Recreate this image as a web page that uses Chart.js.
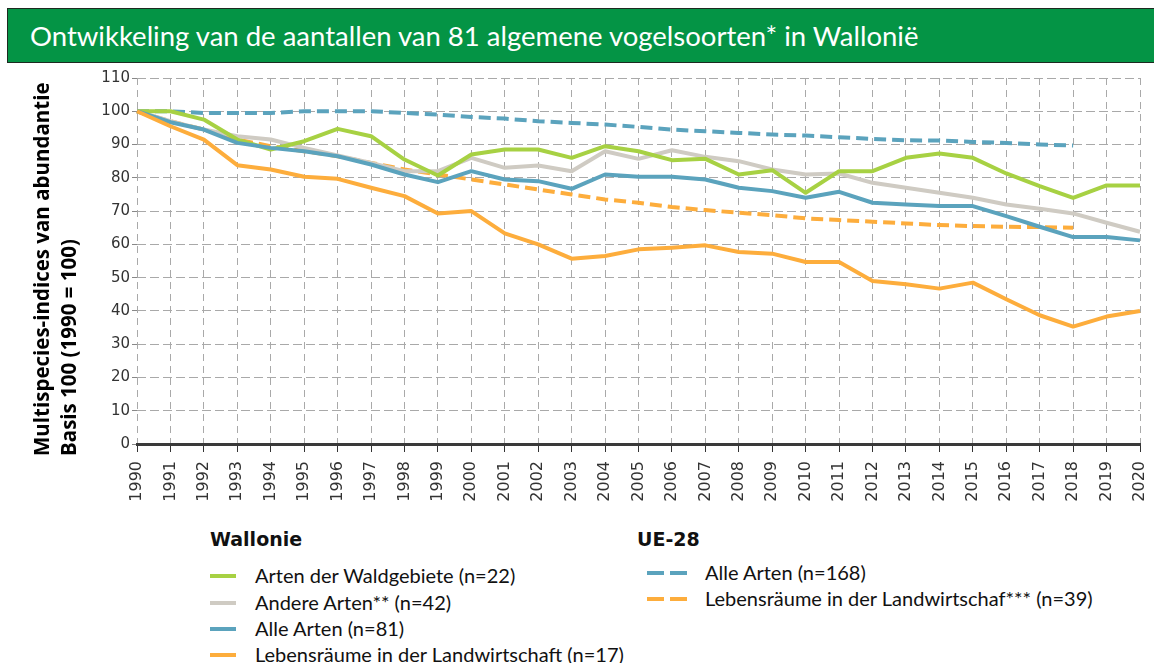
<!DOCTYPE html>
<html lang="nl">
<head>
    <meta charset="UTF-8">
    <title>Vogelsoorten Wallonië</title>
    <script src="https://cdn.jsdelivr.net/npm/chart.js"></script>
    <style>
        body {
            margin: 0;
            width: 1154px;
            height: 663px;
            background: #fff;
            position: relative;
            overflow: hidden;
            font-family: 'Lato', sans-serif;
        }

        .titlebar {
            position: absolute;
            left: 7px;
            top: 8px;
            width: 1160px;
            height: 55px;
            background: #049445;
            border: 1px solid #1d2a20;
            color: #fff;
            font-size: 27.5px;
            line-height: 53px;
            padding-left: 22px;
            box-sizing: border-box;
            z-index: 2;
        }

        .chart-box {
            position: absolute;
            left: 0;
            top: 0;
            width: 1154px;
            height: 520px;
        }

        .legend-head {
            position: absolute;
            font-family: 'DejaVu Sans', sans-serif;
            font-weight: bold;
            font-size: 19px;
            color: #111;
        }

        .legend-item {
            position: absolute;
            font-size: 20px;
            color: #111;
            white-space: nowrap;
        }

        .swatch {
            position: absolute;
            height: 4px;
        }
    </style>
</head>
<body>

    <div class="titlebar">Ontwikkeling van de aantallen van 81 algemene vogelsoorten* in Wallonië</div>

    <div class="chart-box">
        <canvas id="birdChart"></canvas>
    </div>

    <div id="legend"></div>

    <script>
        // categories
        const years = ['1990', '1991', '1992', '1993', '1994', '1995', '1996', '1997', '1998', '1999',
            '2000', '2001', '2002', '2003', '2004', '2005', '2006', '2007', '2008', '2009',
            '2010', '2011', '2012', '2013', '2014', '2015', '2016', '2017', '2018', '2019', '2020'];

        // Wallonie
        const waldgebiete = [100, 100, 97.5, 91.5, 88.5, 91, 94.7, 92.5, 85.5, 80.7,
            87, 88.5, 88.5, 86, 89.5, 88, 85.3, 85.7, 81, 82.3,
            75.5, 82, 82, 86, 87.3, 86, 81.3, 77.5, 74, 77.7, 77.7];
        const andereArten = [100, 97, 94.5, 92.5, 91.5, 89, 86.7, 84.5, 82, 82,
            86, 83, 83.7, 82, 88, 85.7, 88.3, 86.3, 85, 82.5,
            81, 81.3, 78.5, 77, 75.5, 74, 72, 70.7, 69.3, 66.5, 63.8];
        const alleArtenWal = [100, 96.7, 94.5, 90.5, 89, 88, 86.5, 84, 81, 78.7,
            82, 79.5, 79, 76.7, 81, 80.3, 80.3, 79.5, 77, 76,
            74, 75.8, 72.5, 72, 71.5, 71.5, 68.5, 65.3, 62.2, 62.2, 61.2];
        const landwirtschaftWal = [100, 95.5, 91.5, 83.8, 82.5, 80.3, 79.7, 77, 74.5, 69.3,
            70, 63.3, 60, 55.7, 56.5, 58.5, 59, 59.7, 57.7, 57.2,
            54.7, 54.7, 49, 48, 46.7, 48.5, 43.5, 38.7, 35.3, 38.3, 40];

        // UE-28
        const alleArtenEU = [100, 100, 99.5, 99.5, 99.5, 100, 100, 100, 99.5, 99,
            98.3, 97.8, 97, 96.5, 96, 95.3, 94.5, 94, 93.5, 93,
            92.7, 92.2, 91.7, 91.3, 91.2, 90.8, 90.5, 90, 89.7, null, null];
        const landwirtschaftEU = [100, 97, 94.5, 91.5, 89.5, 88, 86.5, 84.5, 82.5, 81,
            79.5, 78, 76.5, 75, 73.5, 72.5, 71.2, 70.3, 69.5, 68.8,
            67.8, 67.3, 66.8, 66.3, 65.8, 65.5, 65.3, 65.2, 65, null, null];

        const yTicks = [0, 10, 20, 30, 40, 50, 60, 70, 80, 90, 100, 110];
        const yTitle = ['Multispecies-indices van abundantie', 'Basis 100 (1990 = 100)'];

        const GREEN = '#a7d143';
        const GREY = '#cfcbc3';
        const BLUE = '#5ba3bd';
        const ORANGE = '#fdad3c';

        // draw order: first one ends up on top
        const series = [
            { label: 'Lebensräume in der Landwirtschaft (n=17)', data: landwirtschaftWal, color: ORANGE, dash: [] },
            { label: 'Alle Arten (n=81)', data: alleArtenWal, color: BLUE, dash: [] },
            { label: 'Arten der Waldgebiete (n=22)', data: waldgebiete, color: GREEN, dash: [] },
            { label: 'Andere Arten** (n=42)', data: andereArten, color: GREY, dash: [] },
            { label: 'Lebensräume in der Landwirtschaf*** (n=39)', data: landwirtschaftEU, color: ORANGE, dash: [12, 6] },
            { label: 'Alle Arten (n=168)', data: alleArtenEU, color: BLUE, dash: [12, 6] }
        ];

        // rotated y axis title, two lines, both starting at the bottom
        const yTitlePlugin = {
            id: 'yTitle',
            afterDraw(chart) {
                const ctx = chart.ctx;
                ctx.save();
                ctx.fillStyle = '#000';
                ctx.font = 'bold 20.5px "Open Sans", sans-serif';
                ctx.textAlign = 'left';
                ctx.textBaseline = 'middle';
                ctx.translate(43, 456);
                ctx.rotate(-Math.PI / 2);
                ctx.fillText(yTitle[0], 0, 0);
                ctx.fillText(yTitle[1], 0, 27);
                ctx.restore();
            }
        };

        const ctx = document.getElementById('birdChart').getContext('2d');
        new Chart(ctx, {
            type: 'line',
            data: {
                labels: years,
                datasets: series.map(s => ({
                    label: s.label,
                    data: s.data,
                    borderColor: s.color,
                    backgroundColor: s.color,
                    borderDash: s.dash,
                    borderWidth: 4,
                    pointRadius: 0,
                    tension: 0,
                    fill: false,
                    spanGaps: false,
                    borderJoinStyle: 'round'
                }))
            },
            options: {
                responsive: true,
                maintainAspectRatio: false,
                animation: false,
                layout: { padding: { top: 78, right: 14, left: 0, bottom: 0 } },
                plugins: {
                    legend: { display: false },
                    tooltip: { enabled: false }
                },
                scales: {
                    x: {
                        afterFit(scale) {
                            scale.height = 76;
                            scale.paddingRight = 0;
                            scale.paddingLeft = 0;
                        },
                        grid: {
                            color: '#a9a9a9',
                            lineWidth: 1,
                            tickLength: 8,
                            tickColor: '#333',
                            tickWidth: 1
                        },
                        border: { display: true, color: '#3a3a3a', width: 3, dash: [7, 5] },
                        ticks: {
                            autoSkip: false,
                            minRotation: 90,
                            maxRotation: 90,
                            padding: 9,
                            color: '#333',
                            font: { family: 'DejaVu Sans', size: 16 }
                        }
                    },
                    y: {
                        min: 0,
                        max: 110,
                        afterFit(scale) { scale.width = 137; },
                        afterBuildTicks(scale) { scale.ticks = yTicks.map(v => ({ value: v })); },
                        grid: {
                            color: '#a9a9a9',
                            lineWidth: 1,
                            tickLength: 5,
                            tickColor: '#888'
                        },
                        border: { display: false, dash: [9, 4] },
                        ticks: {
                            padding: 2,
                            color: '#333',
                            font: { family: 'DejaVu Sans', size: 15 }
                        }
                    }
                }
            },
            plugins: [yTitlePlugin]
        });

        // legend in HTML
        const legend = document.getElementById('legend');
        function addHead(text, x, y) {
            const d = document.createElement('div');
            d.className = 'legend-head';
            d.textContent = text;
            d.style.left = x + 'px';
            d.style.top = (y - 12) + 'px';
            legend.appendChild(d);
        }
        function addItem(text, color, dashed, x, y, textX) {
            if (dashed) {
                [0, 23].forEach(off => {
                    const s = document.createElement('div');
                    s.className = 'swatch';
                    s.style.left = (x + off) + 'px';
                    s.style.width = '17px';
                    s.style.top = (y - 2) + 'px';
                    s.style.background = color;
                    legend.appendChild(s);
                });
            } else {
                const s = document.createElement('div');
                s.className = 'swatch';
                s.style.left = x + 'px';
                s.style.width = '26px';
                s.style.top = (y - 2) + 'px';
                s.style.background = color;
                legend.appendChild(s);
            }
            const t = document.createElement('div');
            t.className = 'legend-item';
            t.textContent = text;
            t.style.left = textX + 'px';
            t.style.top = (y - 13) + 'px';
            legend.appendChild(t);
        }

        addHead('Wallonie', 210, 540);
        addItem('Arten der Waldgebiete (n=22)', GREEN, false, 210, 576, 255);
        addItem('Andere Arten** (n=42)', GREY, false, 210, 603, 255);
        addItem('Alle Arten (n=81)', BLUE, false, 210, 629, 255);
        addItem('Lebensräume in der Landwirtschaft (n=17)', ORANGE, false, 210, 655, 255);

        addHead('UE-28', 637, 540);
        addItem('Alle Arten (n=168)', BLUE, true, 647, 573, 705);
        addItem('Lebensräume in der Landwirtschaf*** (n=39)', ORANGE, true, 647, 599, 705);
    </script>

</body>
</html>
